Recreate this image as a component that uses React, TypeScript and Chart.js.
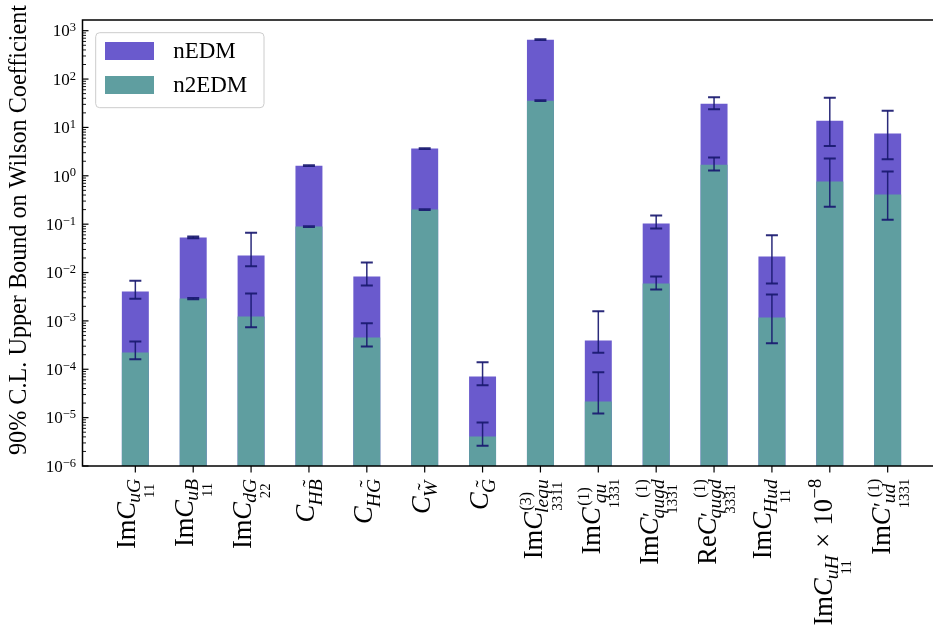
import { useEffect, useRef } from 'react';
import { Chart, registerables } from 'chart.js';

Chart.register(...registerables);

// ---- data -------------------------------------------------------------
type LabelSpec = {
  pre: string;          // upright prefix (Im / Re)
  sub: string;          // italic subscript of C
  under?: string;       // flavour indices set beneath the subscript
  sup?: string;         // upright superscript, e.g. (1)
  prime?: boolean;      // primed operator
  tilde?: number;       // index of the subscript letter carrying a tilde
  scale?: string;       // exponent of an extra "x 10^n" factor
};

const categories: LabelSpec[] = [
  { pre: 'Im', sub: 'uG', under: '11' },
  { pre: 'Im', sub: 'uB', under: '11' },
  { pre: 'Im', sub: 'dG', under: '22' },
  { pre: '', sub: 'HB', tilde: 1 },
  { pre: '', sub: 'HG', tilde: 1 },
  { pre: '', sub: 'W', tilde: 0 },
  { pre: '', sub: 'G', tilde: 0 },
  { pre: 'Im', sup: '(3)', sub: 'lequ', under: '3311' },
  { pre: 'Im', sup: '(1)', sub: 'qu', under: '1331' },
  { pre: 'Im', prime: true, sup: '(1)', sub: 'qugd', under: '1331' },
  { pre: 'Re', prime: true, sup: '(1)', sub: 'qugd', under: '3331' },
  { pre: 'Im', sub: 'Hud', under: '11' },
  { pre: 'Im', sub: 'uH', under: '11', scale: '\u22128' },
  { pre: 'Im', prime: true, sup: '(1)', sub: 'ud', under: '1331' },
];

const nEDM = [4.05e-3, 0.0529, 0.0225, 1.62, 8.27e-3, 3.65, 7.1e-5, 652, 3.94e-4, 0.103, 31.0, 0.0214, 13.8, 7.45];
const nEDMLow = [2.86e-3, 0.0512, 0.0135, 1.59, 5.39e-3, 3.6, 4.69e-5, 642, 2.19e-4, 0.0811, 23.7, 5.93e-3, 4.15, 2.19];
const nEDMHigh = [6.74e-3, 0.0554, 0.0661, 1.65, 0.0161, 3.7, 1.4e-4, 662, 1.59e-3, 0.151, 41.9, 0.059, 41.3, 22.2];

const n2EDM = [2.22e-4, 2.9e-3, 1.23e-3, 0.0892, 4.54e-4, 0.2, 4.09e-6, 35.8, 2.16e-5, 5.93e-3, 1.7, 1.17e-3, 0.759, 0.409];
const n2EDMLow = [1.62e-4, 2.81e-3, 7.41e-4, 0.0878, 2.96e-4, 0.197, 2.63e-6, 35.2, 1.22e-5, 4.45e-3, 1.28, 3.46e-4, 0.228, 0.123];
const n2EDMHigh = [3.75e-4, 2.98e-3, 3.68e-3, 0.0906, 8.97e-4, 0.203, 7.96e-6, 36.4, 8.71e-5, 8.27e-3, 2.38, 3.51e-3, 2.27, 1.22];

const decades = [-6, -5, -4, -3, -2, -1, 0, 1, 2, 3];
const yTitle = '90% C.L. Upper Bound on Wilson Coefficient';

// ---- style ------------------------------------------------------------
const SERIF = '"Liberation Serif", "Times New Roman", serif';
const PURPLE = '#6A5ACD';
const TEAL = '#5F9EA0';
const ERR = 'rgba(25,25,112,0.92)';

type Op = { t: string; font: string; x: number; y: number };

function rm(size: number) {
  return `${size}px ${SERIF}`;
}
function it(size: number) {
  return `italic ${size}px ${SERIF}`;
}

// Lay out a label like Im C'^{(1)}_{qugd / 1331} on a horizontal baseline.
function layoutLabel(ctx: CanvasRenderingContext2D, spec: LabelSpec, F: number) {
  const ops: Op[] = [];
  const w = (t: string, font: string) => {
    ctx.font = font;
    return ctx.measureText(t).width;
  };
  let x = 0;
  if (spec.pre) {
    ops.push({ t: spec.pre, font: rm(F), x, y: 0 });
    x += w(spec.pre, rm(F));
  }
  ops.push({ t: 'C', font: it(F), x, y: 0 });
  x += w('C', it(F));
  const x0 = x - 0.03 * F;

  const sS = 0.74 * F;
  const uS = 0.56 * F;
  const pS = 0.6 * F;
  const subDy = spec.under ? 0.2 * F : 0.28 * F;
  const underDy = subDy + 0.52 * F;
  const supDy = -0.42 * F;

  const wSub = w(spec.sub, it(sS));
  const wUnder = spec.under ? w(spec.under, rm(uS)) : 0;
  const gw = Math.max(wSub, wUnder);
  const subX = x0 + (gw - wSub) / 2;
  ops.push({ t: spec.sub, font: it(sS), x: subX, y: subDy });
  if (spec.tilde !== undefined) {
    const before = w(spec.sub.slice(0, spec.tilde), it(sS));
    const lw = w(spec.sub[spec.tilde], it(sS));
    const tw = w('\u02DC', rm(sS * 1.1));
    ops.push({ t: '\u02DC', font: rm(sS * 1.1), x: subX + before + lw / 2 - tw / 2 + 0.1 * sS, y: subDy - 0.26 * sS });
  }
  if (spec.under) {
    ops.push({ t: spec.under, font: rm(uS), x: x0 + (gw - wUnder) / 2, y: underDy });
  }
  let end = x0 + gw;
  if (spec.prime) {
    const pw = w('\u2032', rm(0.85 * F));
    ops.push({ t: '\u2032', font: rm(0.85 * F), x: x + 0.02 * F, y: -0.02 * F });
    if (spec.sup) {
      const ws = w(spec.sup, rm(pS));
      const sx = Math.max(x + pw + 0.1 * F, x0 + gw - ws);
      ops.push({ t: spec.sup, font: rm(pS), x: sx, y: supDy });
      end = Math.max(end, sx + ws);
    }
  } else if (spec.sup) {
    const ws = w(spec.sup, rm(pS));
    const sx = x + 0.06 * F;
    ops.push({ t: spec.sup, font: rm(pS), x: sx, y: supDy });
    end = Math.max(end, sx + ws);
  }
  x = end;
  if (spec.scale) {
    x += 0.28 * F;
    ops.push({ t: '\u00D7', font: rm(F), x, y: 0 });
    x += w('\u00D7', rm(F)) + 0.28 * F;
    ops.push({ t: '10', font: rm(F), x, y: 0 });
    x += w('10', rm(F));
    ops.push({ t: spec.scale, font: rm(0.7 * F), x: x + 0.02 * F, y: -0.42 * F });
  }

  let minL = Infinity, maxR = -Infinity, top = Infinity, bottom = -Infinity;
  for (const op of ops) {
    ctx.font = op.font;
    const m = ctx.measureText(op.t);
    minL = Math.min(minL, op.x - m.actualBoundingBoxLeft);
    maxR = Math.max(maxR, op.x + m.actualBoundingBoxRight);
    top = Math.min(top, op.y - m.actualBoundingBoxAscent);
    bottom = Math.max(bottom, op.y + m.actualBoundingBoxDescent);
  }
  return { ops, minL, maxR, top, bottom };
}

const decorPlugin = {
  id: 'figureDecor',
  afterDatasetsDraw(chart: any) {
    const { ctx } = chart;
    const xs = chart.scales.x;
    const ys = chart.scales.y;
    ctx.save();
    ctx.strokeStyle = ERR;
    const bands = [
      [nEDMLow, nEDMHigh],
      [n2EDMLow, n2EDMHigh],
    ];
    for (const [lo, hi] of bands) {
      lo.forEach((l: number, i: number) => {
        const x = xs.getPixelForValue(i);
        const y1 = ys.getPixelForValue(l);
        const y2 = ys.getPixelForValue(hi[i]);
        ctx.lineWidth = 1.5;
        ctx.beginPath();
        ctx.moveTo(x, y1);
        ctx.lineTo(x, y2);
        ctx.stroke();
        ctx.lineWidth = 2;
        ctx.beginPath();
        ctx.moveTo(x - 6, y1);
        ctx.lineTo(x + 6, y1);
        ctx.moveTo(x - 6, y2);
        ctx.lineTo(x + 6, y2);
        ctx.stroke();
      });
    }
    ctx.restore();
  },
  afterDraw(chart: any) {
    const { ctx, chartArea: a } = chart;
    const xs = chart.scales.x;
    const ys = chart.scales.y;
    ctx.save();

    // frame
    ctx.strokeStyle = '#000';
    ctx.lineWidth = 1.5;
    ctx.strokeRect(a.left, a.top, a.right - a.left, a.bottom - a.top);

    // y ticks (inward), major and minor
    for (const k of decades) {
      const y = ys.getPixelForValue(Math.pow(10, k));
      ctx.lineWidth = 1.2;
      ctx.beginPath();
      ctx.moveTo(a.left, y);
      ctx.lineTo(a.left + 6, y);
      ctx.stroke();
      for (let m = 2; m <= 9; m++) {
        const v = m * Math.pow(10, k);
        if (v > ys.max) break;
        const ym = ys.getPixelForValue(v);
        ctx.lineWidth = 0.9;
        ctx.beginPath();
        ctx.moveTo(a.left, ym);
        ctx.lineTo(a.left + 3.5, ym);
        ctx.stroke();
      }
    }

    // y tick labels 10^k
    ctx.fillStyle = '#000';
    ctx.textAlign = 'left';
    ctx.textBaseline = 'alphabetic';
    for (const k of decades) {
      const y = ys.getPixelForValue(Math.pow(10, k));
      const exp = k < 0 ? '\u2212' + -k : String(k);
      ctx.font = rm(12.5);
      const we = ctx.measureText(exp).width;
      ctx.font = rm(17);
      const wb = ctx.measureText('10').width;
      const right = a.left - 6.5;
      ctx.fillText('10', right - we - wb, y + 5.8);
      ctx.font = rm(12.5);
      ctx.fillText(exp, right - we, y + 0.6);
    }

    // x ticks (outward)
    ctx.lineWidth = 1.2;
    categories.forEach((_, i) => {
      const x = xs.getPixelForValue(i);
      ctx.beginPath();
      ctx.moveTo(x, a.bottom);
      ctx.lineTo(x, a.bottom + 6.5);
      ctx.stroke();
    });

    // rotated category labels
    const F = 26.5;
    categories.forEach((spec, i) => {
      const L = layoutLabel(ctx, spec, F);
      const tx = xs.getPixelForValue(i);
      const topY = a.bottom + 13;
      ctx.save();
      ctx.translate(tx - (L.top + L.bottom) / 2, topY + L.maxR);
      ctx.rotate(-Math.PI / 2);
      ctx.textAlign = 'left';
      for (const op of L.ops) {
        ctx.font = op.font;
        ctx.fillText(op.t, op.x, op.y);
      }
      ctx.restore();
    });

    // y axis title
    ctx.save();
    ctx.translate(26, 230);
    ctx.rotate(-Math.PI / 2);
    ctx.font = rm(24.2);
    ctx.textAlign = 'center';
    ctx.fillText(yTitle, 0, 0);
    ctx.restore();

    // legend in the upper-left corner
    const bx = a.left + 13.2;
    const by = a.top + 12.7;
    const bw = 168.3;
    const bh = 75;
    ctx.fillStyle = 'rgba(255,255,255,0.8)';
    ctx.strokeStyle = '#cccccc';
    ctx.lineWidth = 1;
    ctx.beginPath();
    ctx.roundRect(bx, by, bw, bh, 4);
    ctx.fill();
    ctx.stroke();
    chart.data.datasets.forEach((ds: any, j: number) => {
      const ry = by + 9.3 + j * 34;
      ctx.fillStyle = ds.backgroundColor;
      ctx.fillRect(bx + 9.3, ry, 49, 18);
      ctx.fillStyle = '#000';
      ctx.font = rm(23);
      ctx.textAlign = 'left';
      ctx.textBaseline = 'middle';
      ctx.fillText(ds.label, bx + 77.5, ry + 9.5);
    });
    ctx.restore();
  },
};

export default function App() {
  const ref = useRef<HTMLCanvasElement | null>(null);

  useEffect(() => {
    if (!ref.current) return;
    const chart = new Chart(ref.current, {
      type: 'bar',
      data: {
        datasets: [
          {
            label: 'nEDM',
            data: nEDM.map((v, i) => ({ x: i, y: v })),
            backgroundColor: PURPLE,
            order: 2,
          },
          {
            label: 'n2EDM',
            data: n2EDM.map((v, i) => ({ x: i, y: v })),
            backgroundColor: TEAL,
            order: 1,
          },
        ],
      },
      options: {
        responsive: false,
        animation: false,
        layout: { padding: { left: 82.5, right: 4.5, top: 20, bottom: 164 } },
        datasets: {
          bar: { grouped: false, categoryPercentage: 1, barPercentage: 0.466, borderWidth: 0 },
        },
        scales: {
          x: { type: 'linear', display: false, offset: false, min: -0.913, max: 13.913 },
          y: { type: 'logarithmic', display: false, min: 1e-6, max: 1664 },
        },
        plugins: {
          legend: { display: false },
          tooltip: { enabled: false },
        },
      },
      plugins: [decorPlugin],
    } as any);
    return () => chart.destroy();
  }, []);

  return (
    <div
      style={{
        position: 'fixed',
        left: 0,
        top: 0,
        width: 933,
        height: 630,
        overflow: 'hidden',
        background: '#fff',
      }}
    >
      <canvas ref={ref} width={945} height={630} style={{ display: 'block' }} />
    </div>
  );
}
